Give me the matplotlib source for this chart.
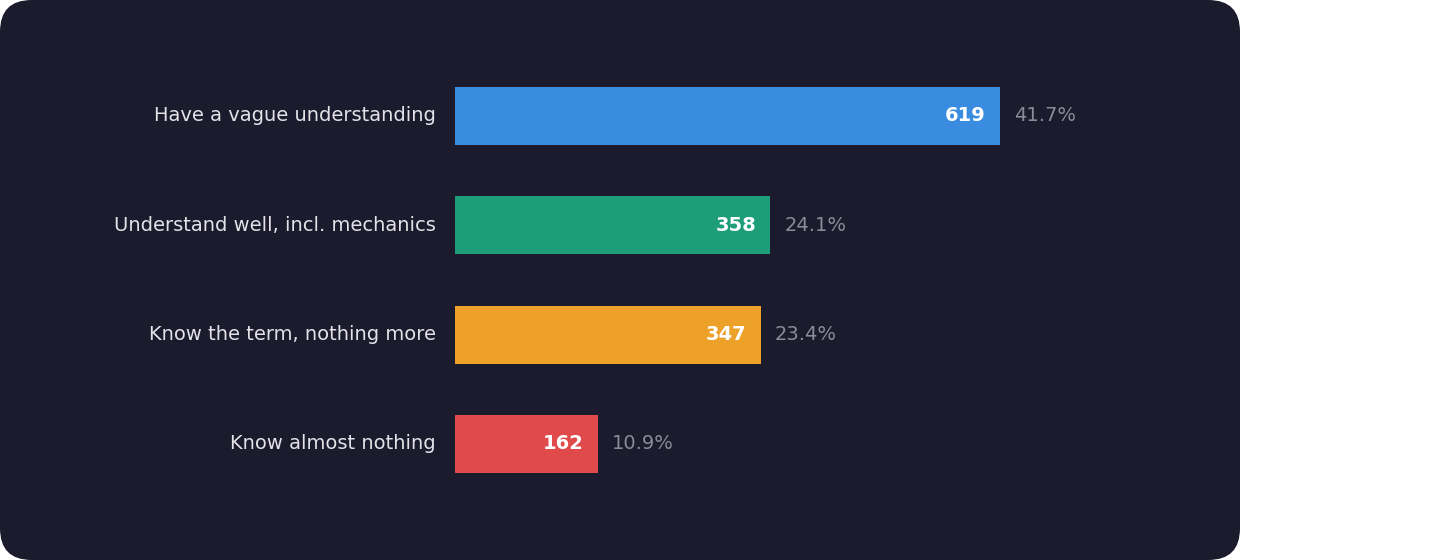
import matplotlib.pyplot as plt
from matplotlib.patches import FancyBboxPatch

labels = ["Have a vague understanding", "Understand well, incl. mechanics",
          "Know the term, nothing more", "Know almost nothing"]
counts = [619, 358, 347, 162]
pcts = ["41.7%", "24.1%", "23.4%", "10.9%"]
colors = ["#3a8ce0", "#1e9e78", "#eea128", "#e04a4a"]

fig = plt.figure(figsize=(14.4, 5.6), dpi=100)
fig.patch.set_facecolor("white")
bg = FancyBboxPatch((0, 0), 1240 / 1440, 1, boxstyle="round,pad=0,rounding_size=0.022",
                    transform=fig.transFigure, facecolor="#1b1b2d", edgecolor="none",
                    mutation_aspect=1440 / 560, zorder=-10)
fig.patches.append(bg)

ax = fig.add_axes([455 / 1440, 0, 785 / 1440, 1])
ax.set_zorder(5)
ax.set_facecolor("none")
step = 109.3
ax.set_ylim((560 - 116) / step, -116 / step)
ax.set_xlim(0, 785 / 0.8805)
ys = list(range(len(counts)))
ax.barh(ys, counts, height=0.53, color=colors)
for y, c, p, lab in zip(ys, counts, pcts, labels):
    ax.text(c - 16, y, str(c), color="white", fontsize=14, fontweight="bold",
            ha="right", va="center")
    ax.text(c + 16, y, p, color="#8a8a9a", fontsize=14, ha="left", va="center")
    ax.text(-22, y, lab, color="#e2e2e8", fontsize=14, ha="right", va="center")
ax.axis("off")
fig.savefig("out.png", dpi=100)
